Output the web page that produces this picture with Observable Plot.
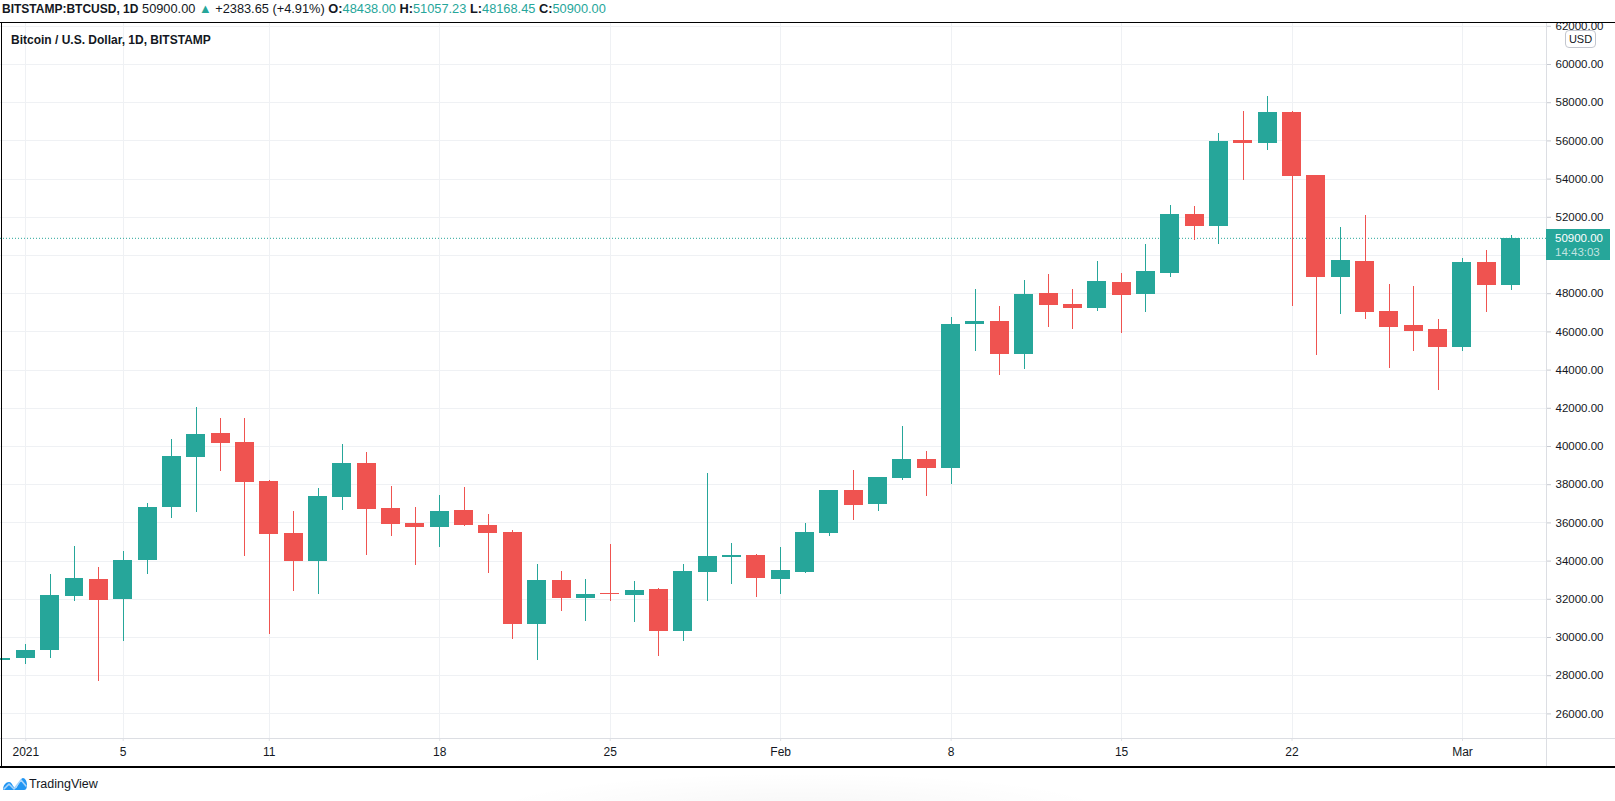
<!DOCTYPE html>
<html><head><meta charset="utf-8">
<script src="https://cdn.jsdelivr.net/npm/d3@7"></script>
<script src="https://cdn.jsdelivr.net/npm/@observablehq/plot@0.6"></script>
<style>
html,body{margin:0;padding:0;background:#fff;}
body{width:1615px;height:801px;overflow:hidden;position:relative;font-family:"Liberation Sans",Arial,sans-serif;color:#131722;}
.abs{position:absolute;}
#header{left:2px;top:0;height:18px;line-height:18px;font-size:12.8px;white-space:nowrap;}
#header b{font-weight:bold;}
#header b.sym{font-size:12px;}
#header .v{color:#26a69a;}
#chart{left:0;top:23px;width:1615px;height:743px;overflow:hidden;}
#title{left:11px;top:32px;font-size:12px;font-weight:bold;line-height:16px;white-space:nowrap;}
.line{position:absolute;}
#usd{left:1565px;top:30px;width:29px;height:16px;border:1px solid #c3c6ce;border-radius:4px;background:#fff;font-size:11px;line-height:16px;text-align:center;color:#131722;}
#pbox{left:1546px;width:64px;height:31px;background:#26a69a;color:#fff;font-size:11.5px;}
#pbox div{position:absolute;left:9px;line-height:12px;white-space:nowrap;}
#footer{left:2px;top:776px;height:16px;}
#footer span{position:absolute;left:27px;top:0;font-size:12.5px;line-height:16px;color:#131722;white-space:nowrap;}
#shade{left:480px;top:772px;width:640px;height:40px;background:radial-gradient(ellipse at 50% 100%, rgba(0,0,0,0.035), rgba(0,0,0,0) 70%);}
</style></head><body>
<div id="header" class="abs"><b class="sym">BITSTAMP:BTCUSD, 1D</b> 50900.00 <span class="v">▲</span> +2383.65 (+4.91%) <b>O:</b><span class="v">48438.00</span> <b>H:</b><span class="v">51057.23</span> <b>L:</b><span class="v">48168.45</span> <b>C:</b><span class="v">50900.00</span></div>
<div id="chart" class="abs"></div>
<div id="title" class="abs">Bitcoin / U.S. Dollar, 1D, BITSTAMP</div>
<div id="usd" class="abs">USD</div>
<div id="shade" class="abs"></div>
<div id="footer" class="abs">
<svg width="26" height="16" viewBox="0 0 26 16" style="position:absolute;left:0;top:0">
<path d="M1 14 C1 9 4 6 7 6 C9 6 10 8 11 10 L13 12 C14 13 15 11 16 9 L18 5 C19 3 20 2 21 2 C23 2 25 5 25 9 C25 12 24 14 22 14 Z" fill="#2196f3"/>
<path d="M2 13 L7 8 L12 13 L19 4 L24 10" fill="none" stroke="#a7d4fb" stroke-width="1.6" stroke-linejoin="round" stroke-linecap="round"/>
</svg>
<span>TradingView</span></div>
<script>
const dates = ["2020-12-31","2021-01-01","2021-01-02","2021-01-03","2021-01-04","2021-01-05","2021-01-06","2021-01-07","2021-01-08","2021-01-09","2021-01-10","2021-01-11","2021-01-12","2021-01-13","2021-01-14","2021-01-15","2021-01-16","2021-01-17","2021-01-18","2021-01-19","2021-01-20","2021-01-21","2021-01-22","2021-01-23","2021-01-24","2021-01-25","2021-01-26","2021-01-27","2021-01-28","2021-01-29","2021-01-30","2021-01-31","2021-02-01","2021-02-02","2021-02-03","2021-02-04","2021-02-05","2021-02-06","2021-02-07","2021-02-08","2021-02-09","2021-02-10","2021-02-11","2021-02-12","2021-02-13","2021-02-14","2021-02-15","2021-02-16","2021-02-17","2021-02-18","2021-02-19","2021-02-20","2021-02-21","2021-02-22","2021-02-23","2021-02-24","2021-02-25","2021-02-26","2021-02-27","2021-02-28","2021-03-01","2021-03-02","2021-03-03"];
const opens  = [28780,28900,29300,32130,33020,31970,34020,36810,39440,40700,40230,38180,35440,33970,37330,39120,36760,35970,35760,36650,35860,35490,30700,32970,32020,32280,32180,32490,30340,33390,34180,34280,33020,33390,35440,37700,36980,38330,39310,38860,46410,46520,44810,48030,47460,47210,48610,47940,49070,52150,51520,56020,55860,57480,54190,48860,49700,47080,46350,46120,45190,49640,48438];
const highs  = [29000,29650,33290,34760,33650,34490,37020,40390,42020,41440,41440,38230,36600,37810,40120,39700,37910,36810,37440,37860,36440,35600,33810,33440,33020,34860,32910,32550,33810,38600,34910,34340,34700,35970,37700,38760,38370,41030,39730,46730,48240,47350,48710,49020,48240,49700,49080,50590,52620,52570,56380,57530,58310,57530,54190,51470,52100,48490,48390,46650,49850,50270,51057.23];
const lows   = [28700,28600,28920,31860,27680,29810,33280,36230,36550,38700,34230,30180,32390,32230,36650,34280,35280,33760,34700,35810,33340,29920,28800,31340,30860,31860,30760,29020,29810,31910,32760,32070,32230,33340,35280,36120,36610,38230,37390,38020,44970,43710,44030,46220,46120,47060,45910,47000,48860,50790,50580,53930,55490,47350,44790,46930,46670,44100,44990,42920,44980,47010,48168.45];
const closes = [28920,29340,32180,33070,31920,34020,36810,39490,40650,40180,38120,35390,33970,37390,39120,36700,35910,35760,36600,35860,35440,30700,32970,32020,32230,32230,32440,30340,33440,34230,34300,33070,33490,35490,37700,36910,38370,39310,38860,46410,46520,44810,47980,47370,47210,48660,47890,49180,52150,51520,55960,55860,57480,54140,48860,49750,47030,46250,46040,45190,49640,48438,50900];
const priceTicks = [26000,28000,30000,32000,34000,36000,38000,40000,42000,44000,46000,48000,50000,52000,54000,56000,58000,60000,62000];
const tickDates  = ["2021-01-01","2021-01-05","2021-01-11","2021-01-18","2021-01-25","2021-02-01","2021-02-08","2021-02-15","2021-02-22","2021-03-01"];
const tickLabels = ["2021","5","11","18","25","Feb","8","15","22","Mar"];
const lastPrice = 50900;
const countdown = "14:43:03";

const UP = "#26a69a", DOWN = "#ef5350", GRID = "#eff1f4";
const DAY = 864e5;
const toDate = s => new Date(s + "T00:00:00Z");
const data = dates.map((d, i) => ({date: toDate(d), open: opens[i], high: highs[i], low: lows[i], close: closes[i]}));
const up = data.filter(d => d.close >= d.open);
const down = data.filter(d => d.close < d.open);
const half = 0.39 * DAY;
const t0 = Date.UTC(2021, 0, 1);
const tickD = tickDates.map(toDate);
const labelOf = new Map(tickD.map((d, i) => [+d, tickLabels[i]]));
// the axis labels hidden under the current-price badge are not drawn (as in the reference)
const axisTicks = priceTicks.filter(p => p < lastPrice - 600 || p > lastPrice + 600);

const body = (arr, color) => Plot.rect(arr, {
  x1: d => new Date(+d.date - half), x2: d => new Date(+d.date + half),
  y1: "open", y2: "close", fill: color, shapeRendering: "crispEdges"
});
const wick = (arr, color) => Plot.ruleX(arr, {x: "date", y1: "low", y2: "high", stroke: color, strokeWidth: 1, shapeRendering: "crispEdges"});

const chart = Plot.plot({
  width: 1615, height: 743,
  marginLeft: 0, marginRight: 69, marginTop: 0, marginBottom: 28,
  style: {fontFamily: "'Liberation Sans', Arial, sans-serif", fontSize: "12px", color: "#131722", background: "transparent"},
  x: {type: "utc", domain: [new Date(t0 - 1.039 * DAY), new Date(t0 + 62.45 * DAY)]},
  y: {domain: [24712, 62147]},
  marks: [
    Plot.gridY(priceTicks, {stroke: GRID, strokeOpacity: 1, shapeRendering: "crispEdges"}),
    Plot.gridX(tickD, {stroke: GRID, strokeOpacity: 1, shapeRendering: "crispEdges"}),
    Plot.ruleY([lastPrice], {stroke: UP, strokeDasharray: "1,2"}),
    wick(up, UP), wick(down, DOWN),
    body(up, UP), body(down, DOWN),
    Plot.axisY(axisTicks, {anchor: "right", tickSize: 4, tickPadding: 5, stroke: "#c8cbd2", fill: "#131722", fontSize: 11.5, tickFormat: d => d.toFixed(2), label: null}),
    Plot.axisX(tickD, {anchor: "bottom", tickSize: 3, tickPadding: 6, stroke: "#dfe1e6", fill: "#131722", fontSize: 12, tickFormat: d => labelOf.get(+d), label: null})
  ]
});
document.getElementById("chart").appendChild(chart);

// axis frame lines and outer border
const yBottom = 23 + 715;
function line(l, t, w, h, c) { const e = document.createElement("div"); e.className = "line"; Object.assign(e.style, {left: l + "px", top: t + "px", width: w + "px", height: h + "px", background: c}); document.body.appendChild(e); }
line(0, yBottom, 1615, 1, "#dcdee3");
line(1545.5, 23, 1, 743, "#dcdee3");
line(0, 22, 1615, 1, "#000");
line(1, 22, 1, 745, "#000");
line(0, 766, 1615, 1.5, "#000");

// current price label positioned from the y scale
const yp = 23 + chart.scale("y").apply(lastPrice);
const pb = document.createElement("div");
pb.id = "pbox"; pb.className = "abs";
pb.style.top = (yp - 8.5) + "px";
pb.innerHTML = `<div style="top:2.5px">${lastPrice.toFixed(2)}</div><div style="top:16.5px;color:rgba(255,255,255,0.72)">${countdown}</div>`;
document.body.appendChild(pb);
document.body.appendChild(document.getElementById("usd"));
</script>
</body></html>
